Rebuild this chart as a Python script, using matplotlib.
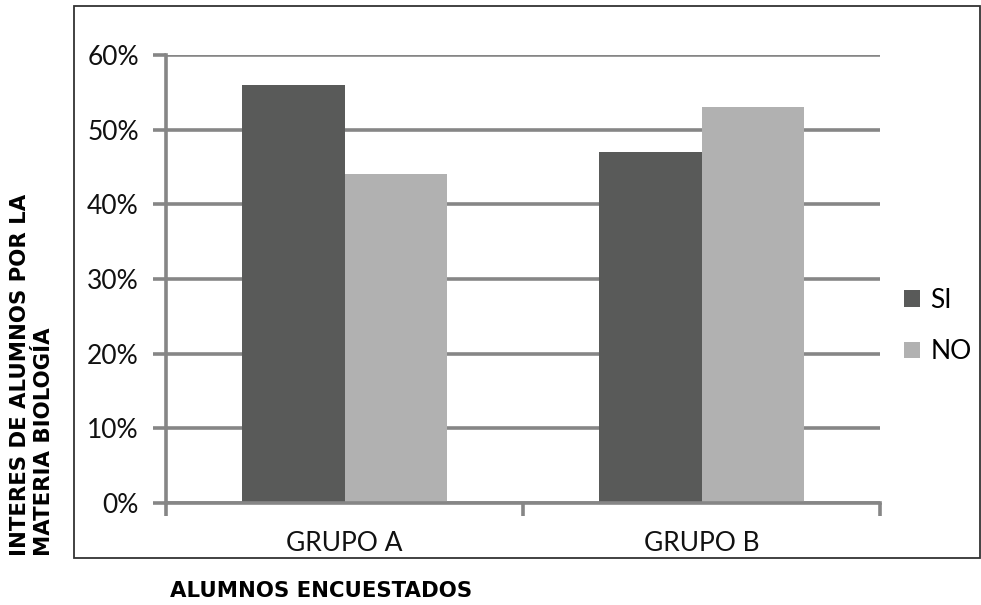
import matplotlib.pyplot as plt
from matplotlib.patches import Rectangle
import numpy as np

grupos = ["GRUPO A", "GRUPO B"]
si_vals = [0.56, 0.47]
no_vals = [0.44, 0.53]
y_ticks = [0.0, 0.1, 0.2, 0.3, 0.4, 0.5, 0.6]

dark = "#595a59"
light = "#b1b1b1"
grid_gray = "#868686"

fig = plt.figure(figsize=(9.81, 6.05), dpi=100)
ax = fig.add_axes([166/981, 1 - 503/605, (880 - 166)/981, (503 - 55)/605])

x = np.arange(len(grupos))
w = 0.286
ax.bar(x - w/2, si_vals, w, color=dark, label="SI", zorder=3)
ax.bar(x + w/2, no_vals, w, color=light, label="NO", zorder=3)

ax.set_xlim(-0.5, len(grupos) - 0.5)
ax.set_ylim(0, 0.6)
ax.set_yticks(y_ticks)
ax.set_yticklabels([f"{int(round(v*100))}%" for v in y_ticks])
ax.yaxis.grid(True, color=grid_gray, lw=2.6, zorder=0)

# category labels in the middle, ticks on the boundaries
ax.set_xticks(x)
ax.set_xticklabels(grupos)
ax.set_xticks(np.arange(-0.5, len(grupos)), minor=True)
ax.tick_params(axis="x", which="major", length=0, pad=20)
ax.tick_params(axis="x", which="minor", length=9.5, width=2.6, color=grid_gray)
ax.tick_params(axis="y", length=9.5, width=2.6, color=grid_gray, pad=10)

font = "Lato"
for lab in ax.get_xticklabels() + ax.get_yticklabels():
    lab.set_fontfamily(font)
    lab.set_fontsize(19)
    lab.set_color("#111111")

for s in ["top", "right"]:
    ax.spines[s].set_visible(False)
for s in ["left", "bottom"]:
    ax.spines[s].set_color(grid_gray)
    ax.spines[s].set_linewidth(2.6)
    ax.spines[s].set_zorder(4)

leg = ax.legend(loc="center left", bbox_to_anchor=(1.0, 0.395), frameon=False,
                prop={"family": font, "size": 19}, handlelength=0.6,
                handleheight=0.6, handletextpad=0.4, labelspacing=1.0)

# outer frame around the chart area
fig.patches.append(Rectangle((74/981, 1 - 558/605), (980 - 74)/981, (558 - 6)/605,
                             transform=fig.transFigure, fill=False,
                             edgecolor="#333333", lw=1.3))

fig.text(170/981, 1 - 591/605, "ALUMNOS ENCUESTADOS", fontsize=15.3,
         fontweight="bold", family="DejaVu Sans", ha="left", va="center")
fig.text(32/981, 1 - 556/605, "INTERES DE ALUMNOS POR LA\nMATERIA BIOLOGÍA",
         fontsize=15.3, fontweight="bold", family="DejaVu Sans", rotation=90,
         ha="center", va="bottom", multialignment="left", linespacing=1.3)

fig.savefig("out.png", dpi=100)
